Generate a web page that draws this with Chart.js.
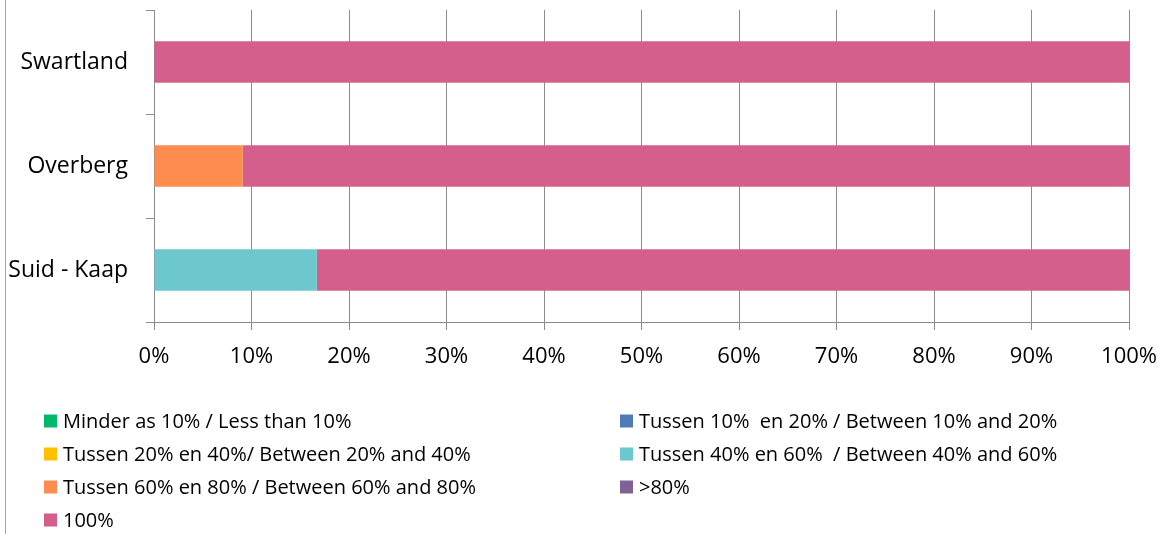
<!DOCTYPE html>
<html>
<head>
<meta charset="utf-8">
<script src="https://cdn.jsdelivr.net/npm/chart.js@4/dist/chart.umd.min.js"></script>
<style>
  html, body { margin: 0; padding: 0; background: #ffffff; }
  #wrap { position: relative; width: 1171px; height: 534px; }
</style>
</head>
<body>
<div id="wrap"><canvas id="c" width="1171" height="534"></canvas></div>
<script>
const categories = ['Swartland', 'Overberg', 'Suid - Kaap'];
const xTicks = [0, 10, 20, 30, 40, 50, 60, 70, 80, 90, 100];

const seriesLabels = [
  'Minder as 10% / Less than 10%',
  'Tussen 10%  en 20% / Between 10% and 20%',
  'Tussen 20% en 40%/ Between 20% and 40%',
  'Tussen 40% en 60%  / Between 40% and 60%',
  'Tussen 60% en 80% / Between 60% and 80%',
  '>80%',
  '100%'
];
const seriesColors = ['#00B96B', '#4F7CB8', '#FFC000', '#6DC8CD', '#FF8C4F', '#7F6196', '#D45F8D'];

const lessThan10 = [0, 0, 0];
const between10and20 = [0, 0, 0];
const between20and40 = [0, 0, 0];
const between40and60 = [0, 0, 16.7];
const between60and80 = [0, 9.1, 0];
const above80 = [0, 0, 0];
const full100 = [100, 90.9, 83.3];

const seriesValues = [lessThan10, between10and20, between20and40, between40and60, between60and80, above80, full100];

const FONT = "'Open Sans', 'Noto Sans', sans-serif";
const GRID = '#8c8c8c';

const datasets = seriesLabels.map((lab, i) => ({
  label: lab,
  data: seriesValues[i],
  backgroundColor: seriesColors[i],
  borderWidth: 0,
  categoryPercentage: 1.0,
  barPercentage: 0.4
}));

const frameAndLegend = {
  id: 'frameAndLegend',
  beforeDraw(chart) {
    const ctx = chart.ctx;
    ctx.save();
    ctx.strokeStyle = '#a6a6a6';
    ctx.lineWidth = 1;
    ctx.beginPath();
    ctx.moveTo(5.5, 0);
    ctx.lineTo(5.5, 534);
    ctx.stroke();
    ctx.restore();
  },
  afterDraw(chart) {
    const ctx = chart.ctx;
    ctx.save();
    ctx.font = '20px ' + FONT;
    ctx.textBaseline = 'middle';
    ctx.textAlign = 'left';
    const colX = [44, 620];
    const rowY = [421, 454, 487, 520];
    chart.data.datasets.forEach((ds, i) => {
      const col = i % 2;
      const row = Math.floor(i / 2);
      const x = colX[col];
      const y = rowY[row];
      ctx.fillStyle = ds.backgroundColor;
      ctx.fillRect(x, y - 6.5, 13, 13);
      ctx.fillStyle = '#000000';
      ctx.fillText(ds.label, x + 19, y + 1);
    });
    ctx.restore();
  }
};

new Chart(document.getElementById('c'), {
  type: 'bar',
  data: { labels: categories, datasets: datasets },
  plugins: [frameAndLegend],
  options: {
    indexAxis: 'y',
    responsive: false,
    animation: false,
    events: [],
    layout: { padding: { top: 10, right: 41, bottom: 162, left: 0 } },
    plugins: {
      legend: { display: false },
      tooltip: { enabled: false },
      title: { display: false }
    },
    scales: {
      x: {
        stacked: true,
        min: 0,
        max: 100,
        afterBuildTicks(scale) { scale.ticks = xTicks.map(v => ({ value: v })); },
        afterFit(scale) { scale.height = 50; },
        ticks: {
          padding: 14,
          color: '#000000',
          font: { family: FONT, size: 22 },
          maxRotation: 0,
          callback: v => v + '%'
        },
        grid: { color: GRID, lineWidth: 1, tickLength: 8, drawTicks: true },
        border: { color: GRID, width: 1 }
      },
      y: {
        stacked: true,
        afterFit(scale) { scale.width = 154; scale.paddingTop = 0; scale.paddingBottom = 0; },
        ticks: {
          padding: 18,
          color: '#000000',
          font: { family: FONT, size: 23 }
        },
        grid: { offset: true, drawOnChartArea: false, color: GRID, lineWidth: 1, tickLength: 8 },
        border: { color: GRID, width: 1 }
      }
    }
  }
});
</script>
</body>
</html>
